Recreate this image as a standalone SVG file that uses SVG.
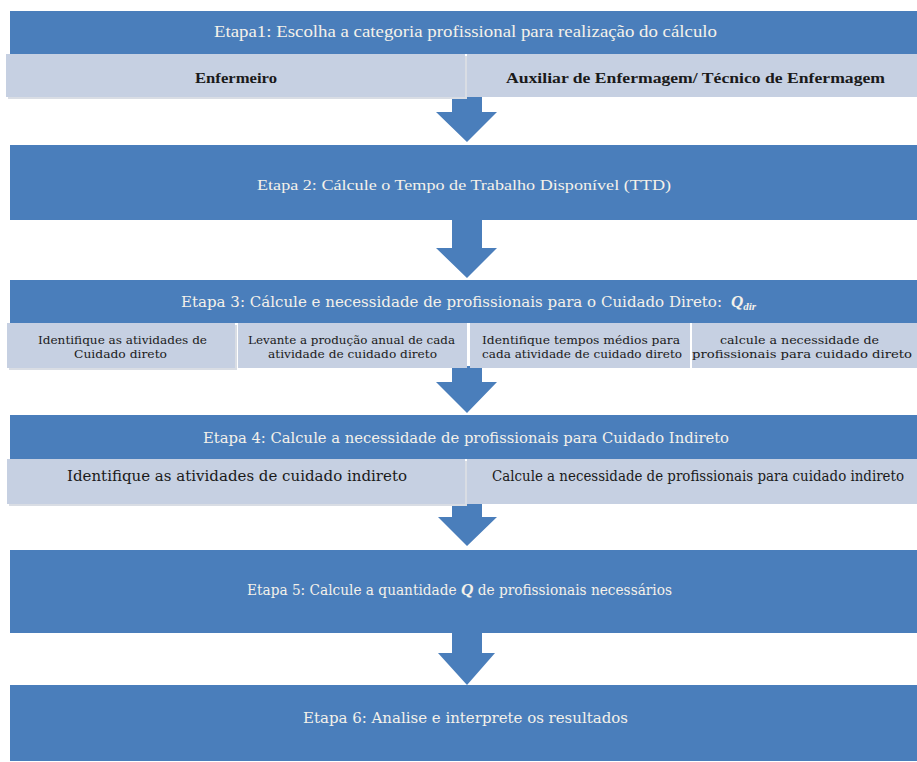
<svg xmlns="http://www.w3.org/2000/svg" width="917" height="762" viewBox="0 0 917 762">
<style>
.hdr{fill:#4a7ebb}
.lt{fill:#c6d0e2}
.sh{fill:#d9dde4}
.arr{fill:#4a7ebb}
.tw{fill:#f4f1ea;font-family:"Liberation Serif",serif;text-anchor:middle}
.tc{fill:#f4f1ea;font-family:"DejaVu Serif Condensed","DejaVu Serif","Liberation Serif",serif;text-anchor:middle}
.td{fill:#1a1a1a;font-family:"Liberation Serif",serif;text-anchor:middle}
.tdc{fill:#1a1a1a;font-family:"DejaVu Serif Condensed","DejaVu Serif","Liberation Serif",serif;text-anchor:middle}
.q{font-family:"Liberation Serif",serif;font-weight:bold;font-style:italic}
</style>
<rect width="917" height="762" fill="#ffffff"/>
<g id="connectors">
<polygon class="arr" points="452,96 482,96 482,112 497,112 467,142 436,112 452,112"/>
<polygon class="arr" points="452,218 482,218 482,248 497,248 467,278 436,248 452,248"/>
<polygon class="arr" points="452,366 482,366 482,382 497,382 467,413 436,382 452,382"/>
<polygon class="arr" points="452,503 482,503 482,517 497,517 467,546 438,517 452,517"/>
<polygon class="arr" points="452,622 482,622 482,653 495,653 467,685 438,653 452,653"/>
</g>
<g id="etapa1">
<rect class="hdr" x="10" y="11" width="907" height="43"/>
<text class="tw" x="465.5" y="37" font-size="17" textLength="503" lengthAdjust="spacingAndGlyphs">Etapa1: Escolha a categoria profissional para realização  do cálculo</text>
</g>
<g id="enfermeiro">
<rect class="sh" x="8" y="56" width="459" height="43"/>
<rect class="lt" x="6" y="54" width="459" height="43"/>
<text class="td" x="236" y="83" font-size="15" font-weight="bold" textLength="82" lengthAdjust="spacingAndGlyphs">Enfermeiro</text>
</g>
<g id="auxiliar">
<rect class="lt" x="467" y="54" width="450" height="43"/>
<text class="td" x="695.5" y="83" font-size="15" font-weight="bold" textLength="379" lengthAdjust="spacingAndGlyphs">Auxiliar de Enfermagem/  Técnico de Enfermagem</text>
</g>
<g id="etapa2">
<rect class="hdr" x="10" y="145" width="907" height="75"/>
<text class="tw" x="464" y="190" font-size="15.5" textLength="414" lengthAdjust="spacingAndGlyphs">Etapa 2: Cálcule  o Tempo  de Trabalho Disponível (TTD)</text>
</g>
<g id="etapa3">
<rect class="hdr" x="10" y="280" width="907" height="43"/>
<text class="tc" x="451.5" y="307" font-size="15" textLength="541" lengthAdjust="spacingAndGlyphs">Etapa  3: Cálcule e necessidade  de profissionais para  o Cuidado  Direto:</text>
<text class="q" x="731" y="307" fill="#f4f1ea" font-size="17">Q<tspan font-size="11" dy="3">dir</tspan></text>
</g>
<g id="e3a">
<rect class="sh" x="9" y="325" width="228" height="45"/>
<rect class="lt" x="7" y="323" width="228" height="45"/>
<text class="tdc" x="122.5" y="344" font-size="11" textLength="169" lengthAdjust="spacingAndGlyphs">Identifique as atividades de</text>
<text class="tdc" x="120.5" y="358" font-size="11" textLength="93" lengthAdjust="spacingAndGlyphs">Cuidado direto</text>
</g>
<g id="e3b">
<rect class="lt" x="238" y="323" width="229" height="45"/>
<text class="tdc" x="351.5" y="344" font-size="11" textLength="207" lengthAdjust="spacingAndGlyphs">Levante a produção anual de cada</text>
<text class="tdc" x="352.5" y="358" font-size="11" textLength="169" lengthAdjust="spacingAndGlyphs">atividade de cuidado direto</text>
</g>
<g id="e3c">
<rect class="lt" x="470" y="323" width="220" height="45"/>
<text class="tdc" x="581" y="344" font-size="11" textLength="198" lengthAdjust="spacingAndGlyphs">Identifique tempos médios para</text>
<text class="tdc" x="582" y="358" font-size="11" textLength="200" lengthAdjust="spacingAndGlyphs">cada atividade de  cuidado direto</text>
</g>
<g id="e3d">
<rect class="lt" x="692" y="323" width="225" height="45"/>
<text class="tdc" x="799.5" y="344" font-size="11" textLength="159" lengthAdjust="spacingAndGlyphs">calcule a necessidade de</text>
<text class="tdc" x="802" y="358" font-size="11" textLength="220" lengthAdjust="spacingAndGlyphs">profissionais para cuidado direto</text>
</g>
<g id="etapa4">
<rect class="hdr" x="10" y="415" width="907" height="44"/>
<text class="tc" x="466" y="443" font-size="15" textLength="526" lengthAdjust="spacingAndGlyphs">Etapa  4: Calcule a necessidade de profissionais para  Cuidado  Indireto</text>
</g>
<g id="e4a">
<rect class="sh" x="9" y="461" width="458" height="45"/>
<rect class="lt" x="7" y="459" width="458" height="45"/>
<text class="tdc" x="237" y="481" font-size="15" textLength="340" lengthAdjust="spacingAndGlyphs">Identifique  as atividades  de cuidado  indireto</text>
</g>
<g id="e4b">
<rect class="lt" x="467" y="459" width="450" height="45"/>
<text class="tdc" x="698" y="481" font-size="14" textLength="412" lengthAdjust="spacingAndGlyphs">Calcule a necessidade de profissionais  para cuidado indireto</text>
</g>
<g id="etapa5">
<rect class="hdr" x="10" y="550" width="907" height="83"/>
<text class="tc" x="459.5" y="595" font-size="15" textLength="425" lengthAdjust="spacingAndGlyphs">Etapa  5: Calcule  a quantidade  <tspan class="q" font-size="17">Q</tspan> de profissionais necessários</text>
</g>
<g id="etapa6">
<rect class="hdr" x="10" y="685" width="907" height="76"/>
<text class="tc" x="465.5" y="723" font-size="15" textLength="325" lengthAdjust="spacingAndGlyphs">Etapa  6: Analise e interprete  os resultados</text>
</g>
</svg>
